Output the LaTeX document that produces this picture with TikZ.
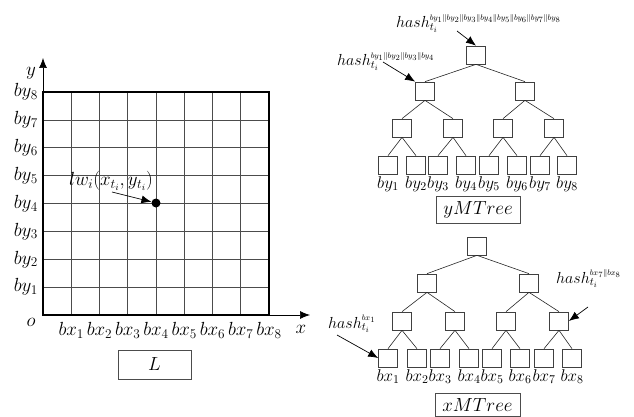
\documentclass[tikz,border=0pt]{standalone}
\usepackage{fix-cm}
\usetikzlibrary{arrows.meta}
\begin{document}
\begin{tikzpicture}[x=1pt,y=-1pt,
  tb/.style={draw=black!75, line width=0.7pt, minimum width=19pt, minimum height=18pt, inner sep=0pt},
  edge/.style={draw=black!85, line width=0.6pt},
  lab/.style={font=\fontsize{19}{21}\selectfont, inner sep=0pt},
  tlab/.style={font=\fontsize{17}{19}\selectfont, inner sep=0pt, anchor=north},
  hlab/.style={font=\fontsize{16}{18}\selectfont, inner sep=0pt, anchor=base west},
  capbox/.style={draw=black!70, line width=0.7pt, font=\fontsize{19}{21}\selectfont, inner sep=0pt},
  arr/.style={-{Latex[length=10pt,width=8pt]}, line width=0.7pt},
  gridline/.style={draw=black!70, line width=0.6pt},
]
\useasboundingbox (0,0) rectangle (634,417);

% ---------- grid L ----------
\foreach \k in {1,...,7} {
  \draw[gridline] ({43+28.25*\k},92) -- ({43+28.25*\k},315);
  \draw[gridline] (43,{92+27.875*\k}) -- (269,{92+27.875*\k});
}
\draw[line width=1.8pt] (43,92) rectangle (269,315);
\coordinate (O) at (43,315);
\coordinate (ytip) at (43,58);
\coordinate (xtip) at (310,315);
\draw[arr] (O) -- (ytip);
\draw[arr] (O) -- (xtip);
\node[lab] (ylab) at (31,73) {$y$};
\node[lab] (olab) at (31,322) {$o$};
\node[lab] (xlab) at (301,329) {$x$};
\foreach \k in {1,...,8} {
  \node[lab, anchor=east] (by\k) at (38,{315-27.875*\k}) {$by_{\k}$};
  \node[lab] (bx\k) at ({43+28.25*\k},330) {$bx_{\k}$};
}
\node[circle, fill=black, inner sep=0pt, minimum size=9pt] (pt) at (156,203) {};
\node[lab] (lw) at (111,181) {$lw_i(x_{t_i},y_{t_i})$};
\coordinate (lwa) at (112,192);
\draw[arr] (lwa) -- (pt);
\node[capbox, minimum width=73pt, minimum height=29pt] (Lbox) at (154.5,364.5) {$L$};

% ---------- yMTree ----------
\node[tb] (yr) at (476,55) {};
\node[tb] (ya) at (425,91) {};
\node[tb] (yb) at (525,91) {};
\node[tb] (yc1) at (402,128) {};
\node[tb] (yc2) at (453,128) {};
\node[tb] (yc3) at (503,128) {};
\node[tb] (yc4) at (554,128) {};
\foreach \i/\x in {1/388,2/416,3/438,4/466,5/489,6/517,7/540,8/567} {
  \node[tb] (yl\i) at (\x,165) {};
  \node[tlab] (yt\i) at (\x,176) {$by_{\i}$};
}
\draw[edge] (yr.south) -- (ya.north);
\draw[edge] (yr.south) -- (yb.north);
\draw[edge] (ya.south) -- (yc1.north);
\draw[edge] (ya.south) -- (yc2.north);
\draw[edge] (yb.south) -- (yc3.north);
\draw[edge] (yb.south) -- (yc4.north);
\foreach \p/\a/\b in {1/1/2,2/3/4,3/5/6,4/7/8} {
  \draw[edge] (yc\p.south) -- (yl\a.north);
  \draw[edge] (yc\p.south) -- (yl\b.north);
}
\node[capbox, minimum width=84pt, minimum height=27pt] (ymt) at (478,209.5) {$yMTree$};

\node[hlab] (h1) at (396,28) {$hash_{t_i}^{\scriptscriptstyle by_1\|by_2\|by_3\|by_4\|by_5\|by_6\|by_7\|by_8}$};
\coordinate (h1a) at (457,31);
\draw[arr] (h1a) -- (yr.north);
\node[hlab] (h2) at (337,66) {$hash_{t_i}^{\scriptscriptstyle by_1\|by_2\|by_3\|by_4}$};
\coordinate (h2a) at (383,62);
\draw[arr] (h2a) -- (ya.north west);

% ---------- xMTree ----------
\node[tb] (xr) at (477,246) {};
\node[tb] (xa) at (427,283) {};
\node[tb] (xb) at (529,283) {};
\node[tb] (xc1) at (402,321) {};
\node[tb] (xc2) at (455,321) {};
\node[tb] (xc3) at (506,321) {};
\node[tb] (xc4) at (559,321) {};
\foreach \i/\x in {1/388,2/417,3/440,4/469,5/492,6/520,7/544,8/572} {
  \node[tb] (xl\i) at (\x,358) {};
  \node[tlab] (xt\i) at (\x,369) {$bx_{\i}$};
}
\draw[edge] (xr.south) -- (xa.north);
\draw[edge] (xr.south) -- (xb.north);
\draw[edge] (xa.south) -- (xc1.north);
\draw[edge] (xa.south) -- (xc2.north);
\draw[edge] (xb.south) -- (xc3.north);
\draw[edge] (xb.south) -- (xc4.north);
\foreach \p/\a/\b in {1/1/2,2/3/4,3/5/6,4/7/8} {
  \draw[edge] (xc\p.south) -- (xl\a.north);
  \draw[edge] (xc\p.south) -- (xl\b.north);
}
\node[capbox, minimum width=85pt, minimum height=23pt] (xmt) at (477.5,405) {$xMTree$};

\node[hlab] (h3) at (556,283) {$hash_{t_i}^{\scriptscriptstyle bx_7\|bx_8}$};
\coordinate (h3a) at (588,307);
\draw[arr] (h3a) -- (xc4.east);
\node[hlab] (h4) at (328,328) {$hash_{t_i}^{\scriptscriptstyle bx_1}$};
\coordinate (h4a) at (337,335);
\draw[arr] (h4a) -- (xl1.west);
\end{tikzpicture}
\end{document}
